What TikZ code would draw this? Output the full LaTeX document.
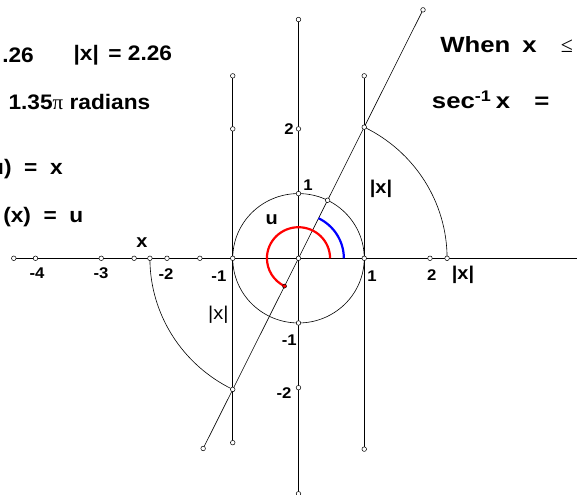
\documentclass[tikz,border=0pt]{standalone}
\usepackage{fontspec}
\setmainfont{Liberation Sans}
\newfontfamily\symbfont{Liberation Serif}
\newfontfamily\leftfont[FakeStretch=1.08]{Liberation Sans}
\newfontfamily\rightfont[FakeStretch=1.17]{Liberation Sans}
\usetikzlibrary{positioning,calc}

\begin{document}
\begin{tikzpicture}[
  x=65.75pt, y=64.7pt,
  line width=0.6pt,
  dot/.style={circle, draw, fill=white, inner sep=0pt, minimum size=4.6pt, line width=0.5pt},
  tick/.style={font=\leftfont\bfseries\fontsize{15.5}{16}\selectfont, inner sep=0pt},
  lbl/.style={font=\leftfont\bfseries\fontsize{18.5}{19}\selectfont, inner sep=0pt},
  big/.style={font=\leftfont\bfseries\fontsize{21}{23}\selectfont, inner sep=0pt},
  bigr/.style={font=\rightfont\bfseries\fontsize{22}{24}\selectfont, inner sep=0pt}
]
  \useasboundingbox (-4.540,-3.658) rectangle (4.236,3.992);
  \clip (-4.540,-3.658) rectangle (4.236,3.992);

  % Axes end points
  \coordinate (O) at (0,0);
  \coordinate (xleft) at (-4.33,0);
  \coordinate (xright) at (4.5,0);
  \coordinate (ytop) at (0,3.69);
  \coordinate (ybot) at (0,-3.64);

  % Vertical lines x = -1 and x = 1
  \coordinate (mtop) at (-1,2.82);
  \coordinate (mbot) at (-1,-2.85);
  \coordinate (ptop) at (1,2.82);
  \coordinate (pbot) at (1,-2.95);

  % Secant line and where it meets the circle, x = 1, x = -1
  \coordinate (stop) at (1.894,3.84);
  \coordinate (sbot) at (-1.45,-2.94);
  \coordinate (hitP) at (1,2.027);
  \coordinate (hitM) at (-1,-2.027);
  \coordinate (hitC) at (0.4424,0.8968);
  \coordinate (absP) at (2.26,0);
  \coordinate (absM) at (-2.26,0);

  \draw (xleft) -- (xright);
  \draw (ytop) -- (ybot);
  \draw (mtop) -- (mbot);
  \draw (ptop) -- (pbot);
  \draw (sbot) -- (stop);
  \draw (O) circle [radius=1];

  % |x| swung down to the axis
  \draw (hitP) arc [start angle=63.74, end angle=0, radius=2.26];
  \draw (hitM) arc [start angle=243.74, end angle=180, radius=2.26];

  % angle u
  \draw[blue, line width=2.2pt] (0.69,0) arc [start angle=0, end angle=63.74, radius=0.69];
  \draw[red, line width=2.2pt] (0.48,0) arc [start angle=0, end angle=243.74, radius=0.48] coordinate (uend);

  % Points
  \foreach \px in {-4.33,-4,-3,-2.5,-2.26,-2,-1.5,-1,0,1,2,2.26}
    \node[dot] at (\px,0) {};
  \foreach \py in {3.69,2,1,-1,-2,-3.64}
    \node[dot] at (0,\py) {};
  \foreach \p in {mtop,mbot,ptop,pbot,stop,sbot,hitP,hitM,hitC}
    \node[dot] at (\p) {};
  \node[dot] at (-1,2) {};
  \node[dot, fill=red, minimum size=4pt] (udot) at (uend) {};

  % Axis numbers
  \node[tick] (tm4) at (-3.977,-0.23) {-4};
  \node[tick] (tm3) at (-3.004,-0.23) {-3};
  \node[tick] (tm2) at (-2.015,-0.24) {-2};
  \node[tick] (tm1) at (-1.21,-0.27) {-1};
  \node[tick] (tp1) at (1.118,-0.27) {1};
  \node[tick] (tp2) at (2.026,-0.26) {2};
  \node[tick] (ty2) at (-0.144,2.0) {2};
  \node[tick] (ty1) at (0.145,1.13) {1};
  \node[tick] (tym1) at (-0.14,-1.263) {-1};
  \node[tick] (tym2) at (-0.22,-2.077) {-2};

  % Labels
  \node[lbl] (xlbl) at (-2.38,0.236) {x};
  \node[lbl] (ulbl) at (-0.408,0.592) {u};
  \node[lbl] (absA) at (1.255,1.079) {|x|};
  \node[lbl] (absB) at (2.502,-0.26) {|x|};
  \node[lbl, font=\leftfont\fontsize{18.5}{19}\selectfont] (absC) at (-1.22,-0.876) {|x|};

  % Text on the left
  \node[big, anchor=west] (xval) at (-4.51,3.142) {.26};
  \node[big, anchor=west] (absval) at (-3.425,3.142) {|x|\hspace{0.45em}=\hspace{0.3em}2.26};
  \node[big, anchor=west] (uval) at (-4.414,2.416) {1.35{\symbfont\mdseries π}\ radians};
  \node[big, anchor=east] (secu) at (-3.582,1.380) {u)\ \ =\ \ x};
  \node[big, anchor=west] (arcsec) at (-4.494,0.638) {(x)\ \ =\ \ u};

  % Text on the right
  \node[bigr, anchor=west] (when) at (2.152,3.297) {When\hspace{0.55em}x\hspace{1.1em}{\symbfont\mdseries ≤}};
  \node[bigr, anchor=west] (secinv) at (2.026,2.447) {sec\textsuperscript{-1}\hspace{0.2em}x\hspace{1.1em}=};
\end{tikzpicture}
\end{document}
